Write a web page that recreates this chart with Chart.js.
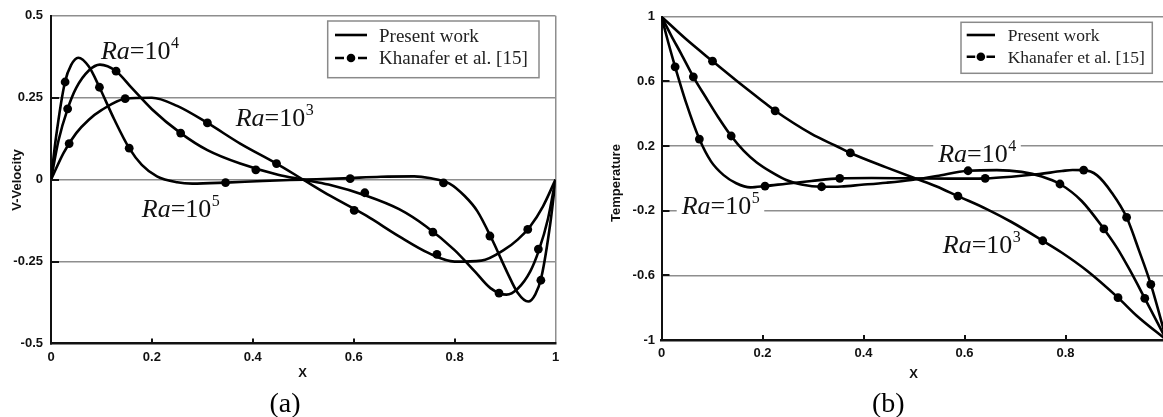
<!DOCTYPE html>
<html><head><meta charset="utf-8">
<script src="https://cdn.jsdelivr.net/npm/chart.js@4.4.1/dist/chart.umd.min.js"></script>
<style>
html,body{margin:0;padding:0;background:#fff;overflow:hidden;width:1163px;height:417px;position:relative;}
#wa{position:absolute;left:0;top:0;width:580px;height:417px;}
#wb{position:absolute;left:580px;top:0;width:620px;height:417px;}
canvas{display:block;}
</style></head><body>
<div id="wa"><canvas id="ca" width="580" height="417"></canvas></div>
<div id="wb"><canvas id="cb" width="620" height="417"></canvas></div>
<script>
// ---------- (a) V-Velocity : present work curves ----------
const aX3 = [0,0.025,0.05,0.075,0.1,0.147,0.2,0.25,0.31,0.375,0.447,0.5,0.553,0.625,0.69,0.75,0.8,0.853,0.9,0.925,0.95,0.975,1];
const aV3 = [0,0.082,0.142,0.183,0.212,0.247,0.25,0.225,0.173,0.11,0.049,0,-0.049,-0.11,-0.173,-0.225,-0.25,-0.247,-0.212,-0.183,-0.142,-0.082,0];
const aX4 = [0,0.015,0.033,0.05,0.075,0.097,0.129,0.16,0.2,0.257,0.31,0.375,0.45,0.5,0.55,0.625,0.69,0.743,0.8,0.84,0.871,0.903,0.925,0.95,0.967,0.985,1];
const aV4 = [0,0.12,0.216,0.28,0.333,0.351,0.331,0.28,0.215,0.142,0.09,0.049,0.015,0,-0.015,-0.049,-0.09,-0.142,-0.215,-0.28,-0.331,-0.351,-0.333,-0.28,-0.216,-0.12,0];
const aX5 = [0,0.01,0.0277,0.04,0.054,0.075,0.096,0.125,0.155,0.18,0.21,0.25,0.28,0.346,0.42,0.5,0.58,0.654,0.72,0.75,0.79,0.82,0.845,0.875,0.904,0.925,0.946,0.96,0.972,0.99,1];
const aV5 = [0,0.13,0.298,0.35,0.372,0.345,0.282,0.185,0.096,0.045,0.01,-0.008,-0.012,-0.009,-0.004,0,0.004,0.009,0.01,0.005,-0.012,-0.05,-0.096,-0.185,-0.282,-0.345,-0.372,-0.35,-0.298,-0.13,0];
// ---------- (a) Khanafer et al. markers ----------
const aMx3 = [0.036,0.147,0.31,0.447,0.601,0.765,0.945];
const aMv3 = [0.11,0.247,0.173,0.049,-0.094,-0.228,-0.152];
const aMx4 = [0.033,0.129,0.257,0.406,0.622,0.757,0.888,0.966];
const aMv4 = [0.216,0.331,0.142,0.030,-0.040,-0.160,-0.346,-0.212];
const aMx5 = [0.028,0.096,0.155,0.346,0.593,0.778,0.870,0.971];
const aMv5 = [0.298,0.282,0.096,-0.009,0.003,-0.010,-0.172,-0.307];
// ---------- (b) Temperature : present work curves ----------
const bX3 = [0,0.049,0.101,0.148,0.197,0.225,0.297,0.346,0.374,0.445,0.502,0.545,0.587,0.644,0.693,0.755,0.793,0.842,0.904,0.941,1];
const bT3 = [1,0.86,0.725,0.605,0.485,0.418,0.275,0.2,0.157,0.068,0,-0.05,-0.11,-0.19,-0.27,-0.386,-0.46,-0.57,-0.738,-0.85,-1];
const bX4 = [0,0.019,0.039,0.063,0.088,0.113,0.138,0.163,0.188,0.217,0.247,0.277,0.317,0.356,0.396,0.445,0.495,0.545,0.607,0.664,0.713,0.753,0.789,0.832,0.876,0.902,0.927,0.957,1];
const bT4 = [1,0.885,0.77,0.628,0.5,0.375,0.262,0.17,0.1,0.04,-0.01,-0.038,-0.052,-0.05,-0.04,-0.027,-0.01,0.015,0.047,0.051,0.04,0.012,-0.035,-0.14,-0.313,-0.43,-0.565,-0.742,-1];
const bX5 = [0,0.013,0.027,0.049,0.075,0.098,0.123,0.148,0.176,0.205,0.247,0.297,0.353,0.416,0.495,0.574,0.641,0.693,0.743,0.793,0.814,0.836,0.862,0.892,0.921,0.946,0.969,1];
const bT5 = [1,0.845,0.69,0.465,0.243,0.105,0.02,-0.03,-0.056,-0.048,-0.033,-0.016,0,0.002,0,-0.002,0,0.01,0.025,0.045,0.052,0.051,0.02,-0.09,-0.241,-0.45,-0.656,-1];
// ---------- (b) Khanafer et al. markers ----------
const bMx3 = [0.101,0.225,0.374,0.587,0.755,0.904];
const bMt3 = [0.725,0.418,0.157,-0.11,-0.386,-0.738];
const bMx4 = [0.063,0.138,0.317,0.607,0.789,0.876,0.957];
const bMt4 = [0.628,0.262,-0.052,0.047,-0.035,-0.313,-0.742];
const bMx5 = [0.027,0.075,0.205,0.353,0.641,0.836,0.921,0.969];
const bMt5 = [0.69,0.243,-0.048,0,0,0.051,-0.241,-0.656];
// ---------- ticks ----------
const xTicks = [0,0.2,0.4,0.6,0.8,1];
const aYTicks = [-0.5,-0.25,0,0.25,0.5];
const bYTicks = [-1,-0.6,-0.2,0.2,0.6,1];
// ---------- labels ----------
const legendLabels = ['Present work','Khanafer et al. [15]'];
const aRaLabels = [{exp:'4',x:0.099,y:0.369},{exp:'3',x:0.366,y:0.165},{exp:'5',x:0.18,y:-0.114}];
const bRaLabels = [{exp:'4',x:0.548,y:0.103},{exp:'5',x:0.040,y:-0.22},{exp:'3',x:0.557,y:-0.464}];

const GRID = '#8e8e8e';
const SANS = '"Liberation Sans", Arial, sans-serif';
const SERIF = '"Liberation Serif", "Times New Roman", serif';

function pts(xs, ys){ return xs.map((x,i)=>({x:x, y:ys[i]})); }
function lineDs(xs, ys){ return {label:legendLabels[0], data:pts(xs,ys), showLine:true, borderColor:'#000', borderWidth:2.6, pointRadius:0, pointHoverRadius:0, cubicInterpolationMode:'monotone', fill:false}; }
function markDs(xs, ys){ return {label:legendLabels[1], data:pts(xs,ys), showLine:false, backgroundColor:'#000', borderColor:'#000', borderWidth:0, pointRadius:4.4, pointHoverRadius:4.4}; }

function drawRa(ctx, x, y, exp, size, bg){
  ctx.save();
  ctx.textBaseline = 'alphabetic'; ctx.textAlign = 'left';
  ctx.font = 'italic ' + size + 'px ' + SERIF;
  const w1 = ctx.measureText('Ra').width;
  ctx.font = size + 'px ' + SERIF;
  const w2 = ctx.measureText('=10').width;
  const es = Math.round(size*0.62);
  ctx.font = es + 'px ' + SERIF;
  const w3 = ctx.measureText(exp).width;
  if (bg){ ctx.fillStyle = '#fff'; ctx.fillRect(x-5, y-size*0.95, w1+w2+w3+10, size*1.15); }
  ctx.fillStyle = '#111';
  ctx.font = 'italic ' + size + 'px ' + SERIF; ctx.fillText('Ra', x, y);
  ctx.font = size + 'px ' + SERIF; ctx.fillText('=10', x+w1, y);
  ctx.font = es + 'px ' + SERIF; ctx.fillText(exp, x+w1+w2+0.5, y - size*0.42);
  ctx.restore();
}

function makePlugin(o){
  return {
    id: 'deco',
    beforeDatasetsDraw(chart){
      const ctx = chart.ctx, xs = chart.scales.x, ys = chart.scales.y;
      o.ra.forEach(r => drawRa(ctx, xs.getPixelForValue(r.x), ys.getPixelForValue(r.y), r.exp, 26, o.raBg));
    },
    afterDraw(chart){
      const ctx = chart.ctx, xs = chart.scales.x, ys = chart.scales.y, a = chart.chartArea;
      ctx.save();
      // inward tick marks
      ctx.strokeStyle = '#111'; ctx.lineWidth = 2;
      xTicks.forEach(v => { if (v>0 && v<1){ const p = Math.round(xs.getPixelForValue(v)); ctx.beginPath(); ctx.moveTo(p, a.bottom); ctx.lineTo(p, a.bottom-5); ctx.stroke(); } });
      const yt = o.yTicks, ymin = yt[0], ymax = yt[yt.length-1];
      yt.forEach(v => { if (v>ymin && v<ymax){ const p = Math.round(ys.getPixelForValue(v)); ctx.beginPath(); ctx.moveTo(a.left, p); ctx.lineTo(a.left+8, p); ctx.stroke(); } });
      // legend
      const L = o.legend;
      ctx.fillStyle = '#fff'; ctx.fillRect(L.x0, L.y0, L.x1-L.x0, L.y1-L.y0);
      ctx.strokeStyle = '#8a8a8a'; ctx.lineWidth = 1.5; ctx.strokeRect(L.x0, L.y0, L.x1-L.x0, L.y1-L.y0);
      ctx.strokeStyle = '#000'; ctx.lineWidth = 2.6;
      ctx.beginPath(); ctx.moveTo(L.sx0, L.r1); ctx.lineTo(L.sx1, L.r1); ctx.stroke();
      ctx.beginPath(); ctx.moveTo(L.sx0, L.r2); ctx.lineTo(L.sx0+L.dash, L.r2); ctx.moveTo(L.sx1-L.dash, L.r2); ctx.lineTo(L.sx1, L.r2); ctx.stroke();
      ctx.fillStyle = '#000'; ctx.beginPath(); ctx.arc((L.sx0+L.sx1)/2, L.r2, 4.3, 0, Math.PI*2); ctx.fill();
      ctx.fillStyle = '#222'; ctx.font = L.fs + 'px ' + SERIF; ctx.textAlign = 'left'; ctx.textBaseline = 'alphabetic';
      ctx.fillText(legendLabels[0], L.tx, L.b1);
      ctx.fillText(legendLabels[1], L.tx, L.b2);
      // axis titles
      ctx.fillStyle = '#111'; ctx.font = 'bold 13px ' + SANS; ctx.textAlign = 'center'; ctx.textBaseline = 'middle';
      ctx.fillText('X', o.xTitle[0], o.xTitle[1]);
      ctx.save(); ctx.translate(o.yTitle[0], o.yTitle[1]); ctx.rotate(-Math.PI/2); ctx.fillText(o.yTitleText, 0, 0); ctx.restore();
      // caption
      ctx.font = '28px ' + SERIF; ctx.textBaseline = 'alphabetic'; ctx.fillStyle = '#000';
      ctx.fillText(o.caption, o.capPos[0], o.capPos[1]);
      ctx.restore();
    }
  };
}

function scaleOpts(yTicks, ymin, ymax, yW, xH, yPad){
  return {
    x: {type:'linear', min:0, max:1,
      afterBuildTicks: s => { s.ticks = xTicks.map(v => ({value:v})); },
      afterFit: s => { s.height = xH; },
      ticks: {color:'#111', font:{family:SANS, size:13, weight:'bold'}, padding:6, maxRotation:0, autoSkip:false, callback: v => String(v)},
      grid: {drawTicks:false, lineWidth:1.5, color: c => (c.tick && c.tick.value === 1) ? GRID : 'rgba(0,0,0,0)'},
      border: {display:true, color:'#111', width:2.5}
    },
    y: {type:'linear', min:ymin, max:ymax,
      afterBuildTicks: s => { s.ticks = yTicks.map(v => ({value:v})); },
      afterFit: s => { s.width = yW; },
      ticks: {color:'#111', font:{family:SANS, size:13, weight:'bold'}, padding:yPad, autoSkip:false, callback: v => String(v)},
      grid: {drawTicks:false, lineWidth:1.5, color: c => (c.tick && c.tick.value === ymin) ? 'rgba(0,0,0,0)' : GRID},
      border: {display:true, color:'#111', width:2}
    }
  };
}

Chart.defaults.animation = false;

new Chart(document.getElementById('ca'), {
  type: 'scatter',
  data: {datasets: [
    markDs(aMx3,aMv3), markDs(aMx4,aMv4), markDs(aMx5,aMv5),
    lineDs(aX3,aV3), lineDs(aX4,aV4), lineDs(aX5,aV5)
  ]},
  options: {
    responsive:false, devicePixelRatio:1, animation:false,
    layout: {padding:{left:0, top:15, right:24.5, bottom:0}},
    plugins: {legend:{display:false}, tooltip:{enabled:false}},
    scales: scaleOpts(aYTicks, -0.5, 0.5, 51, 417-343.5, 8)
  },
  plugins: [makePlugin({
    ra: aRaLabels, raBg:false, yTicks:aYTicks,
    legend: {x0:327.7, y0:21, x1:539, y1:77.7, sx0:335, sx1:367, dash:9, r1:35, r2:58, tx:379, b1:41.7, b2:64.3, fs:19},
    xTitle: [302.7, 373], yTitle: [17, 180], yTitleText: 'V-Velocity',
    caption: '(a)', capPos: [285, 411.7]
  })]
});

new Chart(document.getElementById('cb'), {
  type: 'scatter',
  data: {datasets: [
    markDs(bMx3,bMt3), markDs(bMx4,bMt4), markDs(bMx5,bMt5),
    lineDs(bX3,bT3), lineDs(bX4,bT4), lineDs(bX5,bT5)
  ]},
  options: {
    responsive:false, devicePixelRatio:1, animation:false,
    layout: {padding:{left:0, top:16.7, right:620-586.5, bottom:0}},
    plugins: {legend:{display:false}, tooltip:{enabled:false}},
    scales: scaleOpts(bYTicks, -1, 1, 81.5, 417-340, 6.5)
  },
  plugins: [makePlugin({
    ra: bRaLabels, raBg:true, yTicks:bYTicks,
    legend: {x0:381, y0:22.3, x1:572.3, y1:73.3, sx0:386.7, sx1:415, dash:8.5, r1:35, r2:56.7, tx:427.7, b1:40.7, b2:62.7, fs:17.5},
    xTitle: [333.7, 374.7], yTitle: [36.7, 183], yTitleText: 'Temperature',
    caption: '(b)', capPos: [308.3, 411.7]
  })]
});
</script>
</body></html>
